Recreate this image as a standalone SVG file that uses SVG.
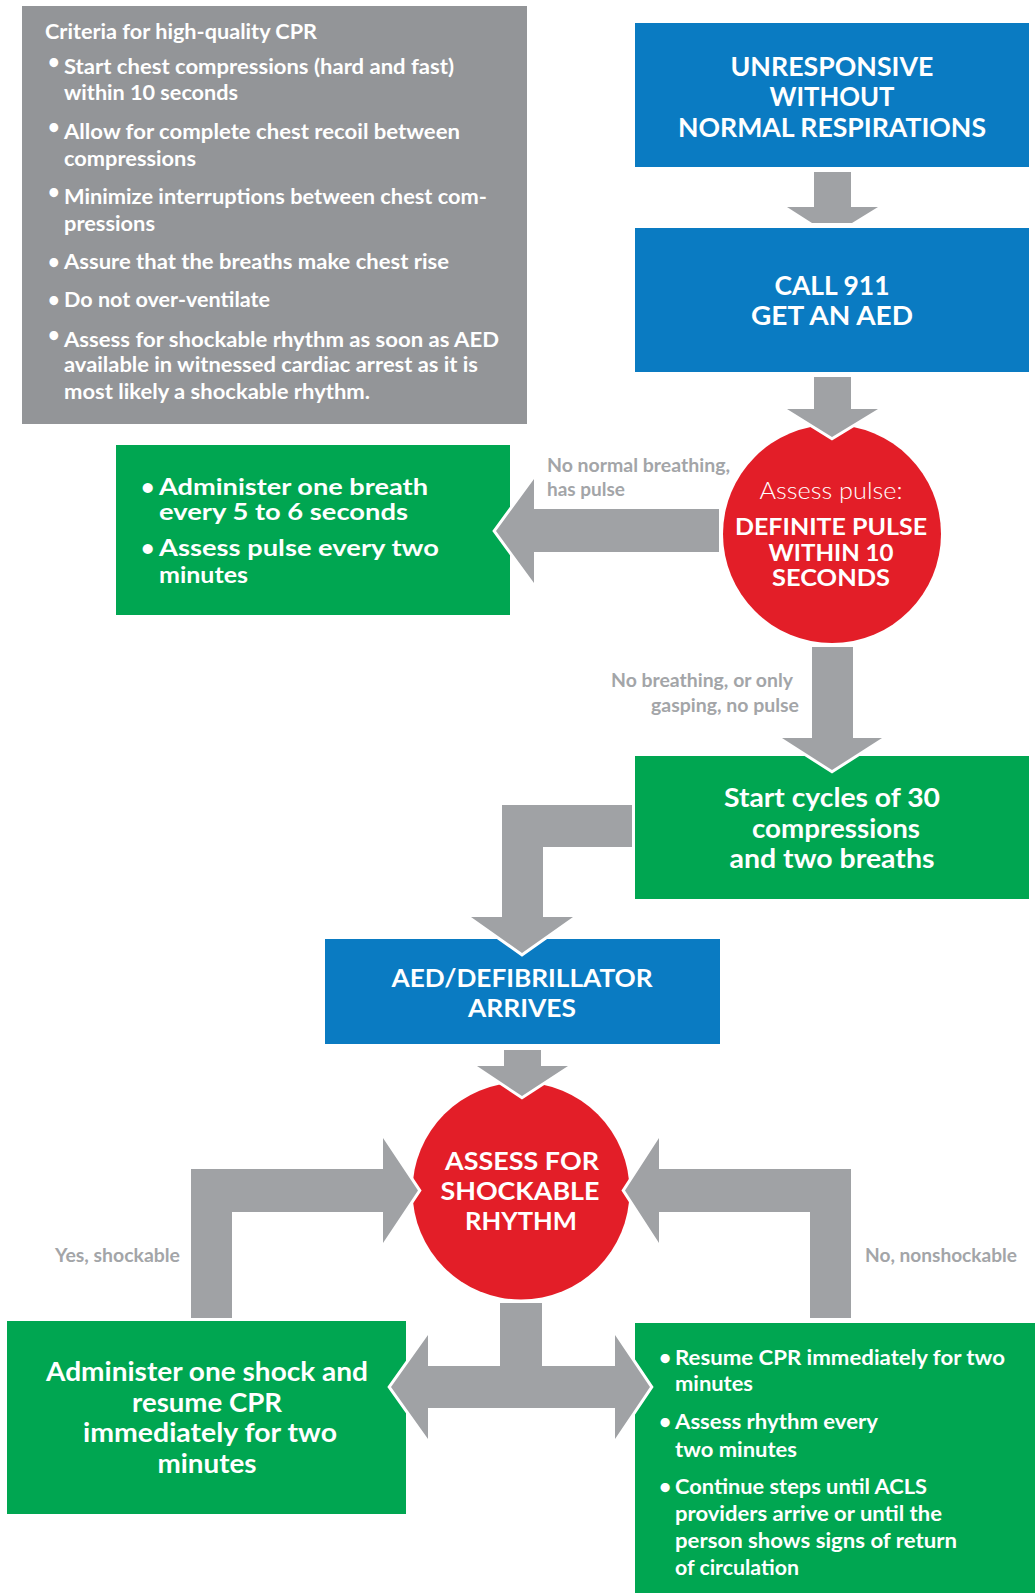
<svg xmlns="http://www.w3.org/2000/svg" width="1035" height="1593" viewBox="0 0 1035 1593">
<style>
text{font-family:Lato,"Liberation Sans",Arial,sans-serif;fill:#fff;font-weight:700}
.gb{fill:#939598}.bl{fill:#0a7bc2}.gr{fill:#00a651}.rd{fill:#e31e28}
.arr{fill:#a0a2a5;stroke:#fff;stroke-width:6;paint-order:stroke;stroke-linejoin:miter}
.t20{font-size:20px}.t26{font-size:26px}.t23{font-size:23px}.t22{font-size:22px}.t21{font-size:21px}.t25{font-size:25px}
.c{text-anchor:middle}
.lbl{font-size:18px;fill:#a3a5a8;font-weight:700}
.lt{font-weight:300}
</style>
<rect width="1035" height="1593" fill="#fff"/>
<g id="criteria">
<rect class="gb" x="22" y="6" width="505" height="418"/>
<text class="t20" x="45" y="39" textLength="272" lengthAdjust="spacingAndGlyphs">Criteria for high-quality CPR</text>
<text class="t20" x="48" y="69">•</text>
<text class="t20" x="64" y="74" textLength="390" lengthAdjust="spacingAndGlyphs">Start chest compressions (hard and fast)</text>
<text class="t20" x="64" y="100" textLength="174" lengthAdjust="spacingAndGlyphs">within 10 seconds</text>
<text class="t20" x="48" y="134">•</text>
<text class="t20" x="64" y="139" textLength="396" lengthAdjust="spacingAndGlyphs">Allow for complete chest recoil between</text>
<text class="t20" x="64" y="166" textLength="132" lengthAdjust="spacingAndGlyphs">compressions</text>
<text class="t20" x="48" y="199">•</text>
<text class="t20" x="64" y="204" textLength="423" lengthAdjust="spacingAndGlyphs">Minimize interruptions between chest com-</text>
<text class="t20" x="64" y="231" textLength="91" lengthAdjust="spacingAndGlyphs">pressions</text>
<text class="t20" x="48" y="269">•</text>
<text class="t20" x="64" y="269" textLength="385" lengthAdjust="spacingAndGlyphs">Assure that the breaths make chest rise</text>
<text class="t20" x="48" y="307">•</text>
<text class="t20" x="64" y="307" textLength="206" lengthAdjust="spacingAndGlyphs">Do not over-ventilate</text>
<text class="t20" x="48" y="342">•</text>
<text class="t20" x="64" y="347" textLength="435" lengthAdjust="spacingAndGlyphs">Assess for shockable rhythm as soon as AED</text>
<text class="t20" x="64" y="372" textLength="414" lengthAdjust="spacingAndGlyphs">available in witnessed cardiac arrest as it is</text>
<text class="t20" x="64" y="399" textLength="306" lengthAdjust="spacingAndGlyphs">most likely a shockable rhythm.</text>
</g>
<g id="unresponsive">
<rect class="bl" x="635" y="23" width="394" height="144"/>
<text class="t26 c" x="832" y="76" textLength="203" lengthAdjust="spacingAndGlyphs">UNRESPONSIVE</text>
<text class="t26 c" x="832" y="106" textLength="125" lengthAdjust="spacingAndGlyphs">WITHOUT</text>
<text class="t26 c" x="832" y="137" textLength="308" lengthAdjust="spacingAndGlyphs">NORMAL RESPIRATIONS</text>
</g>
<g id="call911">
<rect class="bl" x="635" y="228" width="394" height="144"/>
<text class="t26 c" x="832" y="295" textLength="115" lengthAdjust="spacingAndGlyphs">CALL 911</text>
<text class="t26 c" x="832" y="325" textLength="162" lengthAdjust="spacingAndGlyphs">GET AN AED</text>
</g>
<g id="assess-pulse">
<circle class="rd" cx="832" cy="534" r="109"/>
<text class="t23 c lt" x="831" y="499" textLength="143" lengthAdjust="spacingAndGlyphs">Assess pulse:</text>
<text class="t22 c" x="831" y="535" textLength="192" lengthAdjust="spacingAndGlyphs">DEFINITE PULSE</text>
<text class="t22 c" x="831" y="561" textLength="125" lengthAdjust="spacingAndGlyphs">WITHIN 10</text>
<text class="t22 c" x="831" y="586" textLength="118" lengthAdjust="spacingAndGlyphs">SECONDS</text>
</g>
<g id="breath-box">
<rect class="gr" x="116" y="445" width="394" height="170"/>
<text class="t23" x="141" y="495">•</text>
<text class="t23" x="159" y="495" textLength="269" lengthAdjust="spacingAndGlyphs">Administer one breath</text>
<text class="t23" x="159" y="520" textLength="249" lengthAdjust="spacingAndGlyphs">every 5 to 6 seconds</text>
<text class="t23" x="141" y="556">•</text>
<text class="t23" x="159" y="556" textLength="280" lengthAdjust="spacingAndGlyphs">Assess pulse every two</text>
<text class="t23" x="159" y="583" textLength="89" lengthAdjust="spacingAndGlyphs">minutes</text>
</g>
<g id="cycles">
<rect class="gr" x="635" y="756" width="394" height="143"/>
<text class="t26 c" x="832" y="807" textLength="216" lengthAdjust="spacingAndGlyphs">Start cycles of 30</text>
<text class="t26 c" x="836" y="838" textLength="168" lengthAdjust="spacingAndGlyphs">compressions</text>
<text class="t26 c" x="832" y="868" textLength="205" lengthAdjust="spacingAndGlyphs">and two breaths</text>
</g>
<g id="aed-arrives">
<rect class="bl" x="325" y="939" width="395" height="105"/>
<text class="t25 c" x="522" y="987" textLength="261" lengthAdjust="spacingAndGlyphs">AED/DEFIBRILLATOR</text>
<text class="t25 c" x="522" y="1017" textLength="108" lengthAdjust="spacingAndGlyphs">ARRIVES</text>
</g>
<g id="assess-rhythm">
<circle class="rd" cx="521" cy="1191" r="108.5"/>
<text class="t25 c" x="522" y="1170" textLength="154" lengthAdjust="spacingAndGlyphs">ASSESS FOR</text>
<text class="t25 c" x="520" y="1200" textLength="159" lengthAdjust="spacingAndGlyphs">SHOCKABLE</text>
<text class="t25 c" x="521" y="1230" textLength="112" lengthAdjust="spacingAndGlyphs">RHYTHM</text>
</g>
<g id="shock-box">
<rect class="gr" x="7" y="1321" width="399" height="193"/>
<text class="t26 c" x="207" y="1381" textLength="322" lengthAdjust="spacingAndGlyphs">Administer one shock and</text>
<text class="t26 c" x="207" y="1412" textLength="150" lengthAdjust="spacingAndGlyphs">resume CPR</text>
<text class="t26 c" x="210" y="1442" textLength="254" lengthAdjust="spacingAndGlyphs">immediately for two</text>
<text class="t26 c" x="207" y="1473" textLength="99" lengthAdjust="spacingAndGlyphs">minutes</text>
</g>
<g id="resume-box">
<rect class="gr" x="635" y="1323" width="400" height="270"/>
<text class="t21" x="659" y="1365">•</text>
<text class="t21" x="675" y="1365" textLength="330" lengthAdjust="spacingAndGlyphs">Resume CPR immediately for two</text>
<text class="t21" x="675" y="1391" textLength="78" lengthAdjust="spacingAndGlyphs">minutes</text>
<text class="t21" x="659" y="1429">•</text>
<text class="t21" x="675" y="1429" textLength="203" lengthAdjust="spacingAndGlyphs">Assess rhythm every</text>
<text class="t21" x="675" y="1457" textLength="122" lengthAdjust="spacingAndGlyphs">two minutes</text>
<text class="t21" x="659" y="1494">•</text>
<text class="t21" x="675" y="1494" textLength="252" lengthAdjust="spacingAndGlyphs">Continue steps until ACLS</text>
<text class="t21" x="675" y="1521" textLength="267" lengthAdjust="spacingAndGlyphs">providers arrive or until the</text>
<text class="t21" x="675" y="1548" textLength="282" lengthAdjust="spacingAndGlyphs">person shows signs of return</text>
<text class="t21" x="675" y="1575" textLength="124" lengthAdjust="spacingAndGlyphs">of circulation</text>
</g>
<g id="connectors">
<polygon class="arr" points="814,172 851,172 851,207 878,207 852,223 812,223 787,207 814,207"/>
<polygon class="arr" points="814,377 851,377 851,409 878,409 832,437 787,409 814,409"/>
<polygon class="arr" points="719,509 719,552 534,552 534,583 496,531 534,479 534,509"/>
<polygon class="arr" points="812,647 853,647 853,738 882,738 832,770 782,738 812,738"/>
<polygon class="arr" points="632,805 632,847 543,847 543,917 573,917 522,953 471,917 502,917 502,805"/>
<polygon class="arr" points="504,1050 541,1050 541,1066 568,1066 522,1096 477,1066 504,1066"/>
<polygon class="arr" points="191,1318 191,1169 383,1169 383,1138 418,1190.5 383,1243 383,1212 232,1212 232,1318"/>
<polygon class="arr" points="851,1318 851,1169 659,1169 659,1138 625,1190.5 659,1243 659,1212 810,1212 810,1318"/>
<polygon class="arr" points="500,1303 542,1303 542,1366 615,1366 615,1335 650,1387 615,1439 615,1408 428,1408 428,1439 391,1387 428,1335 428,1366 500,1366"/>
<text class="lbl" x="547" y="472" textLength="183" lengthAdjust="spacingAndGlyphs">No normal breathing,</text>
<text class="lbl" x="547" y="496" textLength="78" lengthAdjust="spacingAndGlyphs">has pulse</text>
<text class="lbl" x="611" y="687" textLength="182" lengthAdjust="spacingAndGlyphs">No breathing, or only</text>
<text class="lbl" x="651" y="712" textLength="148" lengthAdjust="spacingAndGlyphs">gasping, no pulse</text>
<text class="lbl" x="55" y="1262" textLength="125" lengthAdjust="spacingAndGlyphs">Yes, shockable</text>
<text class="lbl" x="865" y="1262" textLength="152" lengthAdjust="spacingAndGlyphs">No, nonshockable</text>
</g>
</svg>
